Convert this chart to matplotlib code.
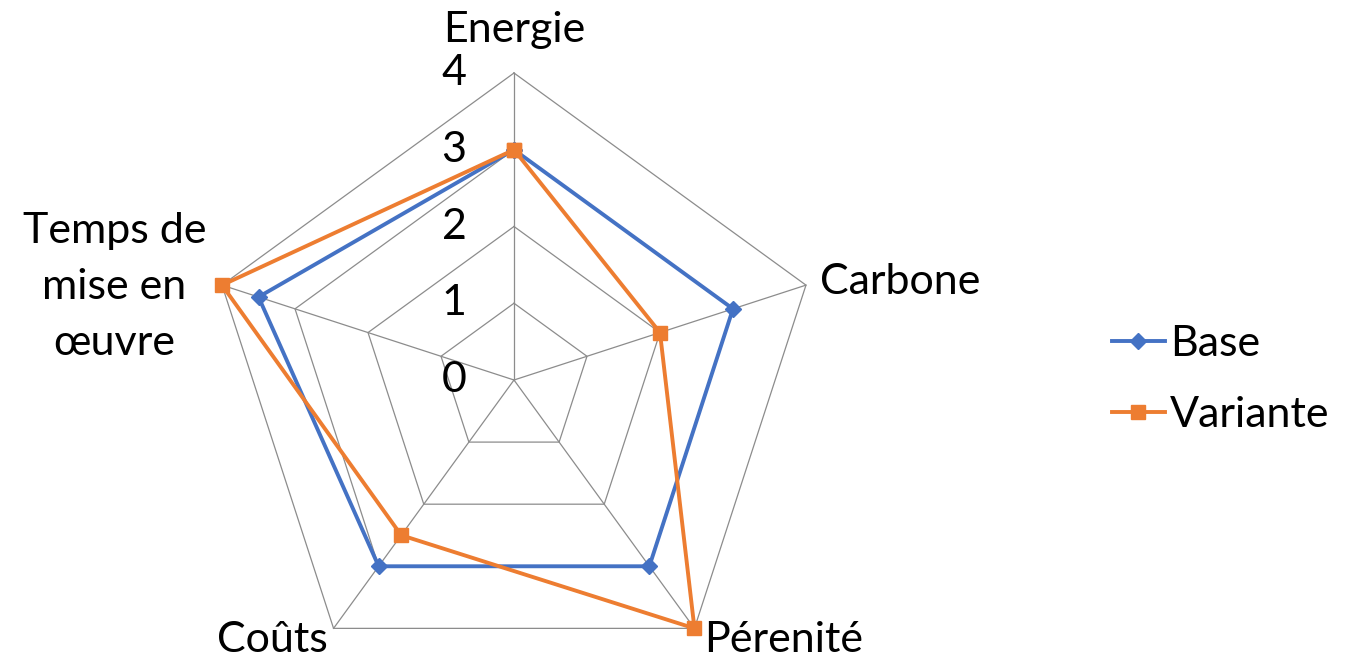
import numpy as np
import matplotlib.pyplot as plt

plt.rcParams['font.family'] = ['Lato', 'DejaVu Sans']

criteres = ["Energie", "Carbone", "Pérenité", "Coûts", "Temps de\nmise en\nœuvre"]
base = [3, 3, 3, 3, 3.5]
variante = [3, 2, 4, 2.5, 4]
niveaux = [0, 1, 2, 3, 4]

# angles measured clockwise from the top
angles = np.arange(len(criteres)) * 2 * np.pi / len(criteres)


def to_xy(r):
    r = np.asarray(r, dtype=float)
    return r * np.sin(angles), r * np.cos(angles)


fig = plt.figure(figsize=(13.6, 6.6), dpi=100)
ax = fig.add_axes([0, 0, 1, 1])
unit = 76.75  # pixels per unit of score
ax.set_xlim(-514 / unit, (1360 - 514) / unit)
ax.set_ylim(-(660 - 380) / unit, 380 / unit)
ax.set_aspect("equal")
ax.axis("off")

fs = 31
grid = "#8c8c8c"
for n in niveaux[1:]:
    gx, gy = to_xy([n] * len(criteres))
    ax.plot(np.append(gx, gx[0]), np.append(gy, gy[0]), color=grid, lw=0.9, zorder=1)
ex, ey = to_xy([niveaux[-1]] * len(criteres))
for x, y in zip(ex, ey):
    ax.plot([0, x], [0, y], color=grid, lw=0.9, zorder=1)

for n in niveaux:
    ax.text(-0.62, n, str(n), ha="right", va="center", fontsize=fs)

for serie, nom, couleur, marque, taille in [
    (base, "Base", "#4472C4", "D", 8.5),
    (variante, "Variante", "#ED7D31", "s", 10),
]:
    sx, sy = to_xy(serie)
    ax.plot(np.append(sx, sx[0]), np.append(sy, sy[0]), color=couleur, lw=2.8,
            marker=marque, markersize=taille, label=nom, zorder=3)

# axis labels around the web
r_lab = niveaux[-1]
lx, ly = to_xy([r_lab] * len(criteres))
ax.text(lx[0], ly[0] + 0.315, criteres[0], ha="center", va="bottom", fontsize=fs)
ax.text(lx[1] + 0.18, ly[1] + 0.04, criteres[1], ha="left", va="center", fontsize=fs)
ax.text(lx[2] + 0.12, ly[2] - 0.15, criteres[2], ha="left", va="center", fontsize=fs)
ax.text(lx[3] - 0.08, ly[3] - 0.15, criteres[3], ha="right", va="center", fontsize=fs)
ax.text(lx[4] - 1.4, ly[4] - 0.02, criteres[4], ha="center", va="center", fontsize=fs,
        linespacing=1.58)

ax.legend(loc="center left", bbox_to_anchor=(0.8176, 0.425), frameon=False, fontsize=fs,
          handlelength=1.23, handletextpad=0.12, labelspacing=0.75,
          borderpad=0, borderaxespad=0)

fig.savefig("out.png", dpi=100)
